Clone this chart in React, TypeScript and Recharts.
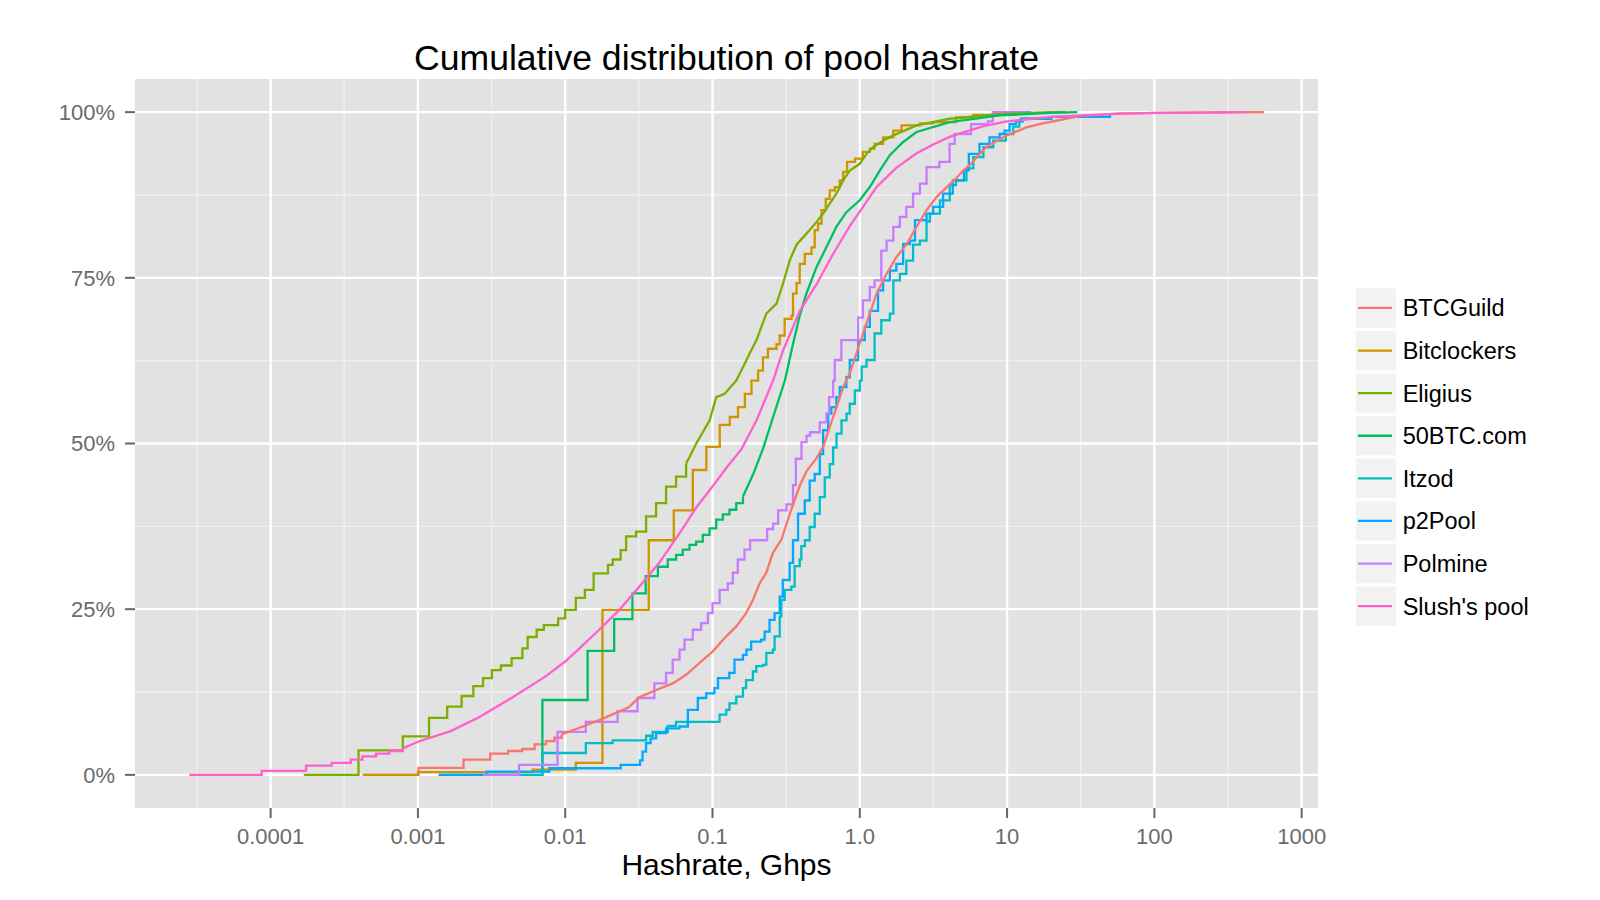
import React from 'react';
import { LineChart, Line, XAxis, YAxis, CartesianGrid } from 'recharts';

type P = [number, number];

const FONT = "'Liberation Sans', Arial, Helvetica, sans-serif";

// ---- axes ----
const xTicks = [0.0001, 0.001, 0.01, 0.1, 1, 10, 100, 1000];
const xTickLabels = ['0.0001', '0.001', '0.01', '0.1', '1.0', '10', '100', '1000'];
const xMinor = [0.0000316, 0.000316, 0.00316, 0.0316, 0.316, 3.16, 31.6, 316];
const xDomain = [0.000012, 1291];
const yTicks = [0, 0.25, 0.5, 0.75, 1];
const yTickLabels = ['0%', '25%', '50%', '75%', '100%'];
const yMinor = [0.125, 0.375, 0.625, 0.875];
const yDomain = [-0.05, 1.05];

// ---- series ----
const seriesNames = ['BTCGuild', 'Bitclockers', 'Eligius', '50BTC.com', 'Itzod', 'p2Pool', 'Polmine', "Slush's pool"];
const seriesColors = ['#F8766D', '#CD9600', '#7CAE00', '#00BE67', '#00BFC4', '#00A9FF', '#C77CFF', '#FF61CC'];

const btcguildSteps: P[] = [
  [0.00042, 0], [0.00101, 0.0105], [0.00204, 0.023], [0.0031, 0.032], [0.0041, 0.036], [0.0051, 0.039],
  [0.0062, 0.046], [0.0074, 0.051], [0.00845, 0.056], [0.00946, 0.061],
];
const btcguildSmooth: P[] = [
  [0.00946, 0.061], [0.0132, 0.073], [0.0185, 0.086], [0.027, 0.102], [0.0318, 0.117], [0.0414, 0.128],
  [0.0537, 0.138], [0.0662, 0.151], [0.0817, 0.169], [0.1, 0.186], [0.124, 0.209], [0.145, 0.224],
  [0.169, 0.244], [0.188, 0.264], [0.209, 0.289], [0.232, 0.305], [0.257, 0.335], [0.294, 0.355],
  [0.335, 0.394], [0.392, 0.437], [0.435, 0.458], [0.508, 0.478], [0.564, 0.495], [0.625, 0.525],
  [0.695, 0.555], [0.771, 0.585], [0.855, 0.606], [1.0, 0.651], [1.11, 0.681], [1.3, 0.726],
  [1.52, 0.756], [1.77, 0.781], [2.07, 0.8], [2.43, 0.827], [2.84, 0.852], [3.32, 0.872], [4.5, 0.9],
  [5.04, 0.912], [5.7, 0.922], [6.21, 0.932], [7.2, 0.947], [8.9, 0.959], [10, 0.965], [13.5, 0.977],
  [16.6, 0.982], [21.5, 0.987], [31, 0.994], [58, 0.998], [120, 0.999], [557, 1.0],
];

const bitclockersSteps: P[] = [
  [0.00043, 0], [0.001, 0.004], [0.006, 0.008], [0.0118, 0.018], [0.0179, 0.249], [0.0369, 0.354],
  [0.0546, 0.399], [0.0735, 0.46], [0.0908, 0.495], [0.112, 0.528], [0.131, 0.54], [0.149, 0.555],
  [0.166, 0.575], [0.184, 0.595], [0.204, 0.61], [0.22, 0.63], [0.238, 0.643], [0.272, 0.65],
  [0.286, 0.663], [0.309, 0.688], [0.344, 0.693], [0.352, 0.726], [0.372, 0.742], [0.391, 0.771],
  [0.423, 0.786], [0.47, 0.796], [0.494, 0.822], [0.521, 0.832], [0.55, 0.852], [0.587, 0.869],
  [0.625, 0.882], [0.676, 0.887], [0.731, 0.897], [0.771, 0.91], [0.82, 0.925], [0.925, 0.93],
  [1.05, 0.94], [1.17, 0.945], [1.26, 0.952], [1.44, 0.962], [1.69, 0.972], [1.92, 0.98], [2.56, 0.983],
  [3.15, 0.985], [4.5, 0.992], [5.9, 0.996], [8.2, 0.999], [12, 1.0],
];
const bitclockersSmooth: P[] = [];

const eligiusSteps: P[] = [
  [0.000168, 0], [0.000395, 0.037], [0.00079, 0.058], [0.00119, 0.086], [0.00158, 0.103], [0.00198, 0.119],
  [0.00238, 0.134], [0.00277, 0.146], [0.00318, 0.158], [0.00366, 0.165], [0.00433, 0.176], [0.00512, 0.191],
  [0.00556, 0.208], [0.0064, 0.219], [0.00716, 0.226], [0.00895, 0.236], [0.01, 0.249], [0.0118, 0.267],
  [0.0136, 0.279], [0.0156, 0.304], [0.0195, 0.317], [0.021, 0.325], [0.0238, 0.339], [0.0259, 0.36],
  [0.0303, 0.367], [0.0354, 0.39], [0.0414, 0.41], [0.0484, 0.435], [0.0566, 0.45], [0.0662, 0.47],
];
const eligiusSmooth: P[] = [
  [0.0662, 0.47], [0.07, 0.48], [0.0776, 0.5], [0.0957, 0.535], [0.106, 0.57], [0.121, 0.575], [0.145, 0.595],
  [0.157, 0.61], [0.179, 0.636], [0.199, 0.656], [0.232, 0.696], [0.272, 0.711], [0.301, 0.741],
  [0.334, 0.776], [0.372, 0.8], [0.412, 0.811], [0.457, 0.822], [0.508, 0.834], [0.564, 0.847],
  [0.625, 0.862], [0.693, 0.877], [0.771, 0.897], [0.855, 0.912], [1.0, 0.922], [1.11, 0.937],
  [1.23, 0.947], [1.44, 0.957], [1.69, 0.965], [2.43, 0.98], [4.08, 0.99], [8.9, 0.997], [20, 1.0], [25, 1.0],
];

const btc50Steps: P[] = [
  [0.0069, 0], [0.007, 0.113], [0.0142, 0.187], [0.0215, 0.235], [0.0286, 0.274], [0.0352, 0.3],
  [0.0426, 0.314], [0.0497, 0.325], [0.0566, 0.332], [0.0628, 0.34], [0.0698, 0.347], [0.0774, 0.352],
  [0.0859, 0.362], [0.0955, 0.372], [0.106, 0.385], [0.1175, 0.393], [0.1305, 0.4], [0.145, 0.41],
  [0.161, 0.42],
];
const btc50Smooth: P[] = [
  [0.161, 0.42], [0.19, 0.455], [0.221, 0.493], [0.258, 0.54], [0.31, 0.595], [0.352, 0.65], [0.391, 0.693],
  [0.434, 0.726], [0.508, 0.766], [0.593, 0.796], [0.693, 0.827], [0.811, 0.849], [1.0, 0.867],
  [1.17, 0.887], [1.37, 0.912], [1.6, 0.935], [1.97, 0.955], [2.43, 0.97], [4.08, 0.985], [8.9, 0.995],
  [20, 0.999], [30, 1.0],
];

const itzodSteps: P[] = [
  [0.0015, 0], [0.007, 0.033], [0.0138, 0.048], [0.021, 0.052], [0.0354, 0.059], [0.0393, 0.065],
  [0.0497, 0.074], [0.0566, 0.08], [0.1117, 0.091], [0.124, 0.098], [0.1305, 0.108], [0.145, 0.118],
  [0.161, 0.131], [0.169, 0.143], [0.188, 0.156], [0.198, 0.164], [0.22, 0.166], [0.232, 0.184],
  [0.257, 0.189], [0.264, 0.209], [0.286, 0.239], [0.293, 0.264], [0.309, 0.279], [0.343, 0.284],
  [0.361, 0.315], [0.391, 0.325], [0.401, 0.345], [0.424, 0.354], [0.457, 0.374], [0.494, 0.394],
  [0.535, 0.419], [0.578, 0.449], [0.625, 0.469], [0.659, 0.494], [0.695, 0.515], [0.752, 0.535],
  [0.813, 0.545], [0.855, 0.56], [0.925, 0.58], [1.0, 0.595], [1.03, 0.616], [1.11, 0.626], [1.26, 0.666],
  [1.4, 0.686], [1.6, 0.696], [1.69, 0.746], [1.87, 0.756], [2.07, 0.776], [2.3, 0.8], [2.56, 0.806],
  [2.84, 0.835], [2.99, 0.847], [3.5, 0.867], [4.08, 0.89], [4.5, 0.897], [5.3, 0.915], [5.9, 0.932],
  [6.9, 0.947], [8.05, 0.957], [9.8, 0.967], [11, 0.978], [12.1, 0.986], [12.8, 0.99], [16.6, 0.992],
];
const itzodSmooth: P[] = [];

const p2poolSteps: P[] = [
  [0.00138, 0], [0.00293, 0.005], [0.0078, 0.01], [0.0238, 0.015], [0.0322, 0.022], [0.0335, 0.035],
  [0.0354, 0.048], [0.038, 0.055], [0.0414, 0.063], [0.0484, 0.07], [0.0597, 0.073], [0.068, 0.098],
  [0.0795, 0.116], [0.0906, 0.123], [0.103, 0.131], [0.109, 0.146], [0.13, 0.154], [0.141, 0.174],
  [0.161, 0.181], [0.17, 0.189], [0.183, 0.201], [0.214, 0.204], [0.226, 0.216], [0.244, 0.234],
  [0.264, 0.244], [0.286, 0.269], [0.3, 0.294], [0.334, 0.32], [0.352, 0.354], [0.381, 0.394],
  [0.423, 0.414], [0.457, 0.444], [0.494, 0.454], [0.535, 0.484], [0.564, 0.52], [0.61, 0.545],
  [0.641, 0.555], [0.693, 0.57], [0.731, 0.585], [0.811, 0.6], [0.855, 0.626], [0.975, 0.656],
  [1.08, 0.676], [1.17, 0.7], [1.33, 0.731], [1.44, 0.746], [1.6, 0.761], [1.77, 0.771], [1.97, 0.801],
  [2.19, 0.806], [2.37, 0.837], [2.84, 0.847], [3.15, 0.857], [3.68, 0.877], [4.28, 0.897], [5.1, 0.912],
  [5.5, 0.937], [6.5, 0.952], [7.6, 0.962], [8.9, 0.967], [9.6, 0.972], [10.4, 0.982], [11.5, 0.986],
  [12.4, 0.99], [20, 0.993], [50, 0.996],
];
const p2poolSmooth: P[] = [];

const polmineSteps: P[] = [
  [0.00277, 0], [0.00486, 0.015], [0.00887, 0.065], [0.0138, 0.08], [0.0227, 0.096], [0.031, 0.116],
  [0.0403, 0.138], [0.0484, 0.154], [0.0537, 0.174], [0.0597, 0.189], [0.0646, 0.204], [0.0735, 0.219],
  [0.0837, 0.229], [0.093, 0.244], [0.1, 0.259], [0.1117, 0.279], [0.127, 0.289], [0.1374, 0.305],
  [0.1486, 0.325], [0.165, 0.34], [0.18, 0.354], [0.235, 0.371], [0.258, 0.379], [0.279, 0.399],
  [0.318, 0.408], [0.352, 0.437], [0.368, 0.477], [0.402, 0.502], [0.435, 0.512], [0.46, 0.517],
  [0.535, 0.532], [0.594, 0.545], [0.619, 0.57], [0.659, 0.595], [0.676, 0.626], [0.75, 0.656],
  [0.975, 0.69], [1.05, 0.716], [1.17, 0.736], [1.26, 0.746], [1.4, 0.791], [1.52, 0.806], [1.69, 0.827],
  [1.87, 0.842], [2.07, 0.857], [2.3, 0.877], [2.56, 0.892], [2.84, 0.917], [3.47, 0.925], [4.07, 0.952],
  [4.4, 0.967], [5.7, 0.982], [7.4, 0.986], [8.0, 1.0], [14.6, 1.0],
];
const polmineSmooth: P[] = [];

const slushSteps: P[] = [
  [0.000028, 0], [0.000087, 0.006], [0.000174, 0.014], [0.00026, 0.018], [0.00035, 0.023], [0.00042, 0.028],
  [0.00052, 0.032], [0.00064, 0.036], [0.00079, 0.04],
];
const slushSmooth: P[] = [
  [0.00079, 0.04], [0.001, 0.05], [0.00167, 0.066], [0.0026, 0.087], [0.0044, 0.117], [0.0074, 0.149],
  [0.01, 0.171], [0.0124, 0.19], [0.017, 0.219], [0.0233, 0.249], [0.0318, 0.284], [0.0435, 0.32],
  [0.06, 0.365], [0.0774, 0.403], [0.1, 0.435], [0.124, 0.463], [0.157, 0.491], [0.199, 0.535],
  [0.258, 0.595], [0.301, 0.64], [0.391, 0.7], [0.508, 0.74], [0.659, 0.786], [0.855, 0.828], [1.0, 0.85],
  [1.3, 0.887], [1.77, 0.916], [2.43, 0.938], [3.2, 0.952], [4.1, 0.963], [6.9, 0.979], [10, 0.986],
  [20, 0.993], [50, 0.997], [100, 0.999], [420, 1.0],
];

const seriesSteps: P[][] = [btcguildSteps, bitclockersSteps, eligiusSteps, btc50Steps, itzodSteps, p2poolSteps, polmineSteps, slushSteps];
const seriesSmooth: P[][] = [btcguildSmooth, bitclockersSmooth, eligiusSmooth, btc50Smooth, itzodSmooth, p2poolSmooth, polmineSmooth, slushSmooth];

const toPts = (a: P[]) => a.map(([x, y]) => ({ x, y }));

const series = seriesNames.map((name, i) => ({
  name,
  color: seriesColors[i],
  steps: toPts(seriesSteps[i]),
  smooth: toPts(seriesSmooth[i]),
}));

const xFmt = (v: number) => {
  const i = xTicks.findIndex((t) => Math.abs(Math.log10(t) - Math.log10(v)) < 1e-6);
  return i >= 0 ? xTickLabels[i] : '';
};
const yFmt = (v: number) => {
  const i = yTicks.findIndex((t) => Math.abs(t - v) < 1e-9);
  return i >= 0 ? yTickLabels[i] : '';
};

const TICK_COLOR = '#6B6B6B';

export default function App() {
  return (
    <div style={{ position: 'absolute', left: 0, top: 0, width: 1600, height: 900, background: '#FFFFFF', fontFamily: FONT }}>
      <LineChart width={1600} height={900} margin={{ top: 79, right: 282, bottom: 0, left: 0 }}>
        <CartesianGrid
          fill="#E2E2E2"
          stroke="#F0F0F0"
          strokeWidth={1.3}
          horizontalValues={yMinor}
          verticalValues={xMinor}
        />
        <CartesianGrid
          fill="none"
          stroke="#FFFFFF"
          strokeWidth={2.3}
          horizontalValues={yTicks}
          verticalValues={xTicks}
        />
        <XAxis
          type="number"
          dataKey="x"
          scale="log"
          domain={xDomain}
          allowDataOverflow
          ticks={xTicks}
          interval={0}
          tickFormatter={xFmt}
          height={92}
          tickSize={10}
          tickMargin={10}
          axisLine={false}
          tickLine={{ stroke: '#666666', strokeWidth: 2 }}
          tick={{ fill: TICK_COLOR, fontSize: 22, fontFamily: FONT }}
        />
        <YAxis
          type="number"
          domain={yDomain}
          allowDataOverflow
          ticks={yTicks}
          interval={0}
          tickFormatter={yFmt}
          width={135}
          tickSize={10}
          tickMargin={10}
          axisLine={false}
          tickLine={{ stroke: '#666666', strokeWidth: 2 }}
          tick={{ fill: TICK_COLOR, fontSize: 22, fontFamily: FONT }}
        />
        {series.map((s) => (
          <Line
            key={s.name + '-steps'}
            data={s.steps}
            dataKey="y"
            type="stepAfter"
            stroke={s.color}
            strokeWidth={2.3}
            dot={false}
            activeDot={false}
            isAnimationActive={false}
          />
        ))}
        {series
          .filter((s) => s.smooth.length > 0)
          .map((s) => (
            <Line
              key={s.name + '-smooth'}
              data={s.smooth}
              dataKey="y"
              type="linear"
              stroke={s.color}
              strokeWidth={2.3}
              dot={false}
              activeDot={false}
              isAnimationActive={false}
            />
          ))}
      </LineChart>
      <svg
        width={1600}
        height={900}
        style={{ position: 'absolute', left: 0, top: 0, pointerEvents: 'none' }}
      >
        <text x={726.5} y={70} textAnchor="middle" fontSize={35.6} fontFamily={FONT} fill="#000000">
          Cumulative distribution of pool hashrate
        </text>
        <text x={726.5} y={875} textAnchor="middle" fontSize={30} fontFamily={FONT} fill="#000000">
          Hashrate, Ghps
        </text>
        {series.map((s, i) => {
          const top = 288.3 + 42.6 * i;
          const cy = top + 19.65;
          return (
            <g key={s.name + '-legend'}>
              <rect x={1355.7} y={top} width={40} height={39.3} fill="#F2F2F2" />
              <line x1={1358} x2={1392} y1={cy} y2={cy} stroke={s.color} strokeWidth={2.3} />
              <text x={1402.7} y={cy + 8.4} fontSize={23.5} fontFamily={FONT} fill="#000000">
                {s.name}
              </text>
            </g>
          );
        })}
      </svg>
    </div>
  );
}
